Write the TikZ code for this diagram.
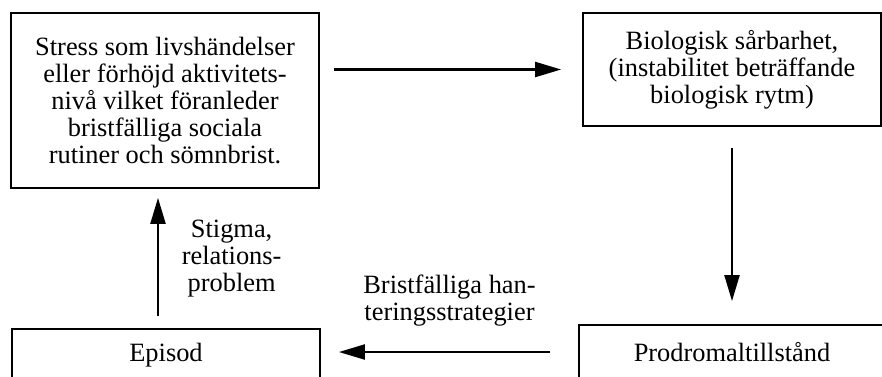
\documentclass[tikz,border=0pt]{standalone}
\usepackage{fontspec}
\setmainfont{Liberation Serif}
\usetikzlibrary{arrows.meta}

\begin{document}
\begin{tikzpicture}
		[x=0.5pt,y=-0.5pt,
		box/.style={draw,line width=0.9pt,align=center,inner sep=0pt,font=\fontsize{13.2}{13.4}\selectfont},
		pil/.style={-{Triangle[length=13pt,width=7.5pt]},line width=1.1pt},
		lbl/.style={align=center,font=\fontsize{13.2}{13.4}\selectfont}]
		\path[use as bounding box,clip] (0,0) rectangle (882,376);

		\node[box,minimum width=154pt,minimum height=87.5pt] (n1) at (165,100.5) {Stress som livshändelser\\eller förhöjd aktivitets-\\nivå vilket föranleder\\bristfälliga sociala\\rutiner och sömnbrist.};
		\node[box,minimum width=149pt,minimum height=56.5pt] (n2) at (732,69.5) {Biologisk sårbarhet,\\(instabilitet beträffande\\biologisk rytm)};
		\node[box,minimum width=153pt,minimum height=27pt] (n3) at (732,352) {Prodromaltillstånd};
		\node[box,minimum width=154pt,minimum height=26pt] (n4) at (166,355) {Episod};

		\draw[pil,shorten <=7pt,shorten >=10.5pt] (n1.east |- n2.west) -- (n2.west);
		\draw[pil,shorten <=10.5pt,shorten >=11.5pt] (n2.south) -- (n2.south |- n3.north);
		\draw[pil,shorten <=14pt,shorten >=9pt] (n3.west) -- (n3.west -| n4.east)
			node[lbl,midway,above=9pt] (l2) {Bristfälliga han-\\teringsstrategier};
		\draw[pil,shorten <=6pt,shorten >=4.5pt] ([xshift=-4pt]n4.north) -- ([xshift=-4pt]n4.north |- n1.south)
			node[lbl,midway,right=8pt] (l1) {Stigma,\\relations-\\problem};

	\end{tikzpicture}
\end{document}
